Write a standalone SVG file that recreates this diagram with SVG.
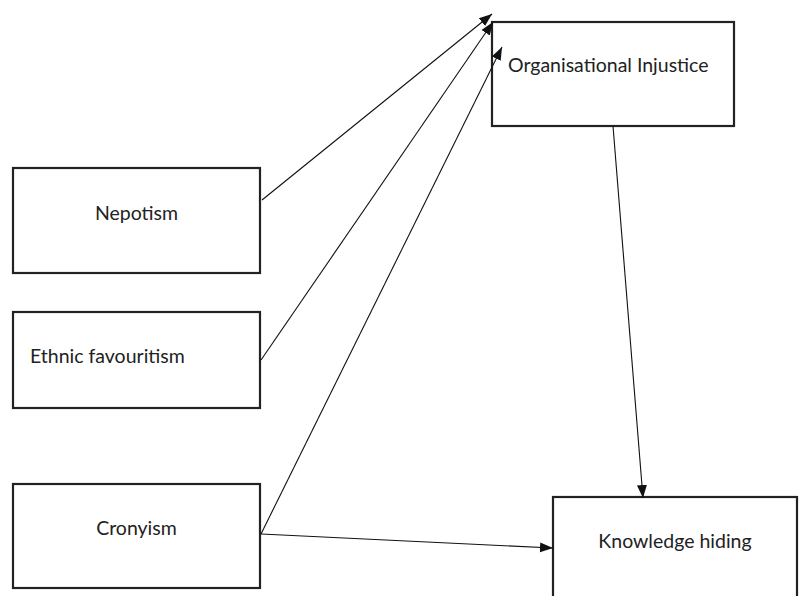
<svg xmlns="http://www.w3.org/2000/svg" width="800" height="596" viewBox="0 0 800 596">
<defs>
<style>
.box{fill:#fff;stroke:#222;stroke-width:2.2}
.lbl{font-family:Lato,"Open Sans","Liberation Sans",sans-serif;font-size:19.5px;fill:#222}
.mid{text-anchor:middle}
.edge{stroke:#111;stroke-width:1.1;fill:none;marker-end:url(#arr)}
</style>
<marker id="arr" markerUnits="userSpaceOnUse" markerWidth="14" markerHeight="12" refX="13" refY="5" orient="auto" viewBox="0 0 14 10">
<path d="M0,0 L13,5 L0,10 Z" fill="#111"/>
</marker>
</defs>
<rect width="800" height="596" fill="#fff"/>
<g id="nepotism">
<rect class="box" x="13" y="168" width="247" height="105"/>
<text class="lbl mid" x="136.5" y="220">Nepotism</text>
</g>
<g id="ethnic">
<rect class="box" x="13" y="312" width="247" height="96"/>
<text class="lbl" x="30" y="363">Ethnic favouritism</text>
</g>
<g id="cronyism">
<rect class="box" x="13" y="484" width="247" height="104"/>
<text class="lbl mid" x="136.5" y="535">Cronyism</text>
</g>
<g id="injustice">
<rect class="box" x="492" y="22" width="242" height="104"/>
<text class="lbl" x="508" y="72">Organisational Injustice</text>
</g>
<g id="hiding">
<rect class="box" x="553" y="497" width="244" height="110"/>
<text class="lbl mid" x="675" y="548">Knowledge hiding</text>
</g>
<g id="connectors">
<line class="edge" x1="262" y1="200" x2="492" y2="14"/>
<line class="edge" x1="261" y1="360" x2="493" y2="22"/>
<line class="edge" x1="261" y1="534" x2="502" y2="47"/>
<line class="edge" x1="261" y1="534" x2="553" y2="548"/>
<line class="edge" x1="613" y1="126" x2="643" y2="498"/>
</g>
</svg>
